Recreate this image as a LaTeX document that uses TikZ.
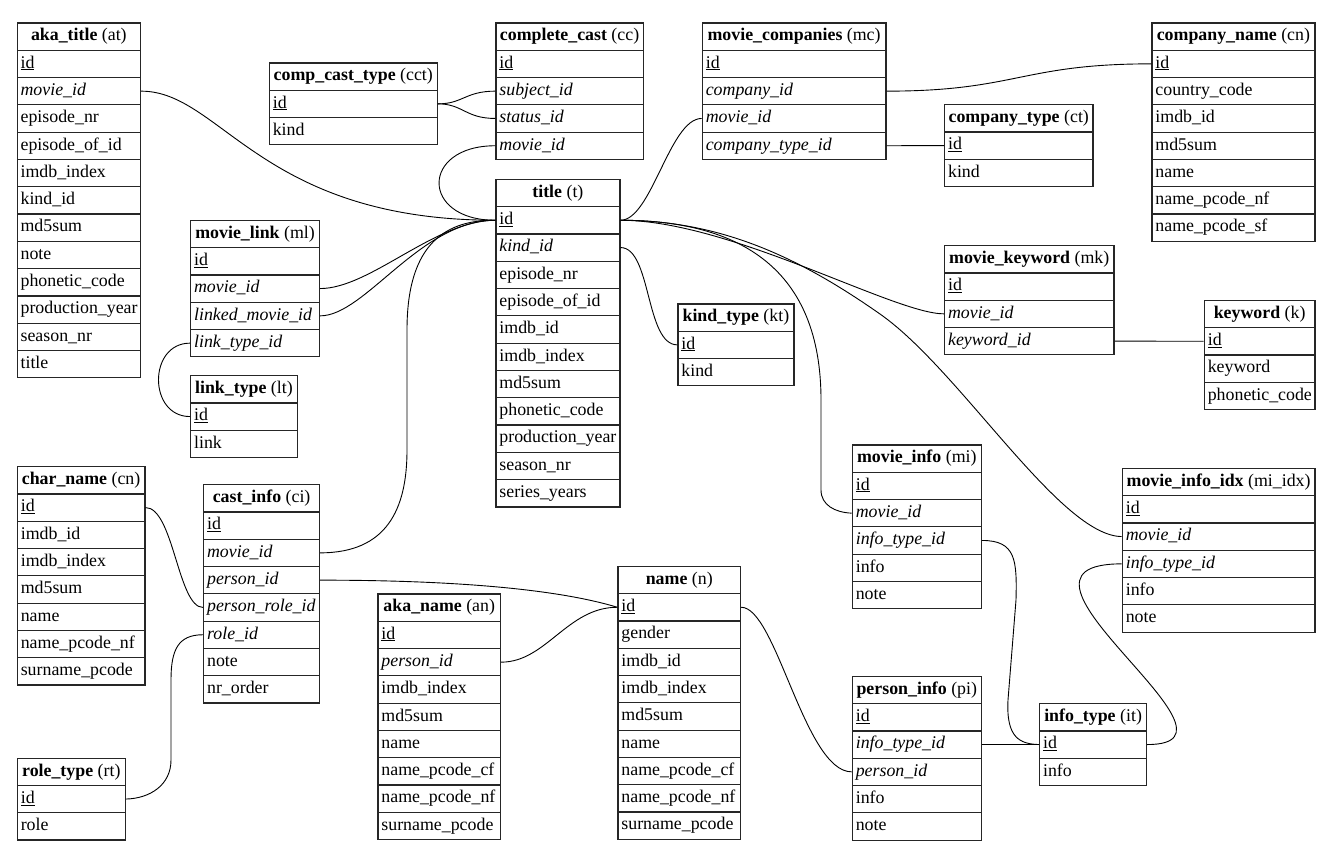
\documentclass[tikz,border=0pt]{standalone}
\usepackage{fontspec}
\setmainfont{Liberation Serif}
\newcommand{\etable}[6]{%
  \pgfmathsetmacro\etw{#4-7}%
  \node[ehead, minimum width=#4pt, anchor=north west] (#1) at (#2,#3) {#5};%
  \foreach \erk/\ert [count=\eri] in {#6} {%
    \pgfmathsetmacro\ey{#3+27.3*\eri}%
    \node[erow, minimum width=#4pt, text width=\etw pt, anchor=north west] (#1-\erk) at (#2,\ey) {\ert};%
  }%
}
\begin{document}
\begin{tikzpicture}[x=1pt,y=-1pt,
  ebase/.style={draw=black!85, line width=1.2pt, rectangle, inner xsep=3.5pt, inner ysep=0pt,
    minimum height=27.3pt, text height=12.5pt, text depth=4pt,
    font=\fontsize{17.85}{21}\selectfont},
  ehead/.style={ebase, align=center},
  erow/.style={ebase, align=left},
  conn/.style={draw=black, line width=0.9pt}]
\useasboundingbox (0,0) rectangle (1334,862);

\etable{at}{16.5}{22.3}{123.5}{\textbf{aka\_title} (at)}{id/\underline{id}, mid/\textit{movie\_id}, enr/episode\_nr, eoid/episode\_of\_id, idx/imdb\_index, kid/kind\_id, md5/md5sum, note/note, pc/phonetic\_code, py/production\_year, snr/season\_nr, title/title}
\etable{cct}{268.7}{62.3}{168}{\textbf{comp\_cast\_type} (cct)}{id/\underline{id}, kind/kind}
\etable{cc}{495.3}{22.3}{147.4}{\textbf{complete\_cast} (cc)}{id/\underline{id}, sid/\textit{subject\_id}, stid/\textit{status\_id}, mid/\textit{movie\_id}}
\etable{mc}{701.7}{22.3}{183.6}{\textbf{movie\_companies} (mc)}{id/\underline{id}, cid/\textit{company\_id}, mid/\textit{movie\_id}, ctid/\textit{company\_type\_id}}
\etable{cn}{1151.3}{22.3}{163}{\textbf{company\_name} (cn)}{id/\underline{id}, cc/country\_code, imid/imdb\_id, md5/md5sum, name/name, nf/name\_pcode\_nf, sf/name\_pcode\_sf}
\etable{ct}{944}{104}{148.3}{\textbf{company\_type} (ct)}{id/\underline{id}, kind/kind}
\etable{t}{495.3}{178.7}{124}{\textbf{title} (t)}{id/\underline{id}, kid/\textit{kind\_id}, enr/episode\_nr, eoid/episode\_of\_id, imid/imdb\_id, idx/imdb\_index, md5/md5sum, pc/phonetic\_code, py/production\_year, snr/season\_nr, sy/series\_years}
\etable{ml}{190}{219.7}{129}{\textbf{movie\_link} (ml)}{id/\underline{id}, mid/\textit{movie\_id}, lid/\textit{linked\_movie\_id}, ltid/\textit{link\_type\_id}}
\etable{kt}{677.3}{303.3}{116}{\textbf{kind\_type} (kt)}{id/\underline{id}, kind/kind}
\etable{mk}{944}{245}{169.3}{\textbf{movie\_keyword} (mk)}{id/\underline{id}, mid/\textit{movie\_id}, kid/\textit{keyword\_id}}
\etable{k}{1203.7}{299.7}{110.6}{\textbf{keyword} (k)}{id/\underline{id}, kw/keyword, pc/phonetic\_code}
\etable{lt}{190}{375}{106.7}{\textbf{link\_type} (lt)}{id/\underline{id}, link/link}
\etable{chn}{16.7}{466}{127.6}{\textbf{char\_name} (cn)}{id/\underline{id}, imid/imdb\_id, idx/imdb\_index, md5/md5sum, name/name, nf/name\_pcode\_nf, sp/surname\_pcode}
\etable{ci}{203}{484}{116}{\textbf{cast\_info} (ci)}{id/\underline{id}, mid/\textit{movie\_id}, pid/\textit{person\_id}, prid/\textit{person\_role\_id}, rid/\textit{role\_id}, note/note, nro/nr\_order}
\etable{rt}{16.7}{757.5}{108}{\textbf{role\_type} (rt)}{id/\underline{id}, role/role}
\etable{mi}{851.7}{444.3}{129}{\textbf{movie\_info} (mi)}{id/\underline{id}, mid/\textit{movie\_id}, itid/\textit{info\_type\_id}, info/info, note/note}
\etable{mii}{1121.7}{467.7}{192.6}{\textbf{movie\_info\_idx} (mi\_idx)}{id/\underline{id}, mid/\textit{movie\_id}, itid/\textit{info\_type\_id}, info/info, note/note}
\etable{an}{377.3}{593.3}{122.7}{\textbf{aka\_name} (an)}{id/\underline{id}, pid/\textit{person\_id}, idx/imdb\_index, md5/md5sum, name/name, cf/name\_pcode\_cf, nf/name\_pcode\_nf, sp/surname\_pcode}
\etable{n}{617.3}{565.7}{122.7}{\textbf{name} (n)}{id/\underline{id}, gender/gender, imid/imdb\_id, idx/imdb\_index, md5/md5sum, name/name, cf/name\_pcode\_cf, nf/name\_pcode\_nf, sp/surname\_pcode}
\etable{pi}{851.7}{675.7}{129}{\textbf{person\_info} (pi)}{id/\underline{id}, itid/\textit{info\_type\_id}, pid/\textit{person\_id}, info/info, note/note}
\etable{it}{1039}{703}{107}{\textbf{info\_type} (it)}{id/\underline{id}, info/info}

% connectors
\draw[conn] (at-mid.east) .. controls +(80,0) and +(-235,0) .. (t-id.west);
\draw[conn] (cct-id.east) .. controls +(25,0) and +(-30,0) .. (cc-sid.west);
\draw[conn] (cct-id.east) .. controls +(25,0) and +(-30,0) .. (cc-stid.west);
\draw[conn] (cc-mid.west) .. controls +(-75,0) and +(-75,0) .. (t-id.west);
\draw[conn] (ml-mid.east) .. controls +(50,0) and +(-60,0) .. (t-id.west);
\draw[conn] (ml-lid.east) .. controls +(45,0) and +(-75,0) .. (t-id.west);
\draw[conn] (ml-ltid.west) .. controls +(-42,0) and +(-42,0) .. (lt-id.west);
\draw[conn] (ci-mid.east) .. controls +(66,0) and (407,510) .. (407,450) -- (407,330) .. controls (407,250) and (440,219.65) .. (t-id.west);
\draw[conn] (ci-pid.east) .. controls +(180,0) and (580,596) .. (n-id.west);
\draw[conn] (chn-id.east) .. controls +(28,0) and +(-25,0) .. (ci-prid.west);
\draw[conn] (ci-rid.west) .. controls +(-25,0) and (171,650) .. (171,680) -- (171,760) .. controls (171,785) and (150,798.45) .. (rt-id.east);
\draw[conn] (an-pid.east) .. controls +(45,0) and +(-50,0) .. (n-id.west);
\draw[conn] (n-id.east) .. controls +(35,0) and +(-47,0) .. (pi-pid.west);
\draw[conn] (t-id.east) .. controls +(31,0) and +(-32,0) .. (mc-mid.west);
\draw[conn] (mc-cid.east) .. controls +(130,0) and +(-130,0) .. (cn-id.west);
\draw[conn] (mc-ctid.east) -- (ct-id.west);
\draw[conn] (t-kid.east) .. controls +(31,0) and +(-32,0) .. (kt-id.west);
\draw[conn] (t-id.east) .. controls +(110,0) and +(-50,0) .. (mk-mid.west);
\draw[conn] (mk-kid.east) -- (k-id.west);
\draw[conn] (t-id.east) .. controls +(121,0) and (821,270) .. (821,400) -- (821,490) .. controls (821,505) and (835,512.5) .. (mi-mid.west);
\draw[conn] (t-id.east) .. controls +(101,0) and (800,258) .. (880,314) .. controls (960,370) and (1060,536) .. (mii-mid.west);
\draw[conn] (mi-itid.east) .. controls +(34,0) and (1017,560) .. (1016,600) -- (1008,700) .. controls (1006,738) and (1020,744) .. (it-id.west);
\draw[conn] (pi-itid.east) -- (it-id.west);
\draw[conn] (it-id.east) .. controls +(119,0) and +(-147,0) .. (mii-itid.west);
\end{tikzpicture}
\end{document}
